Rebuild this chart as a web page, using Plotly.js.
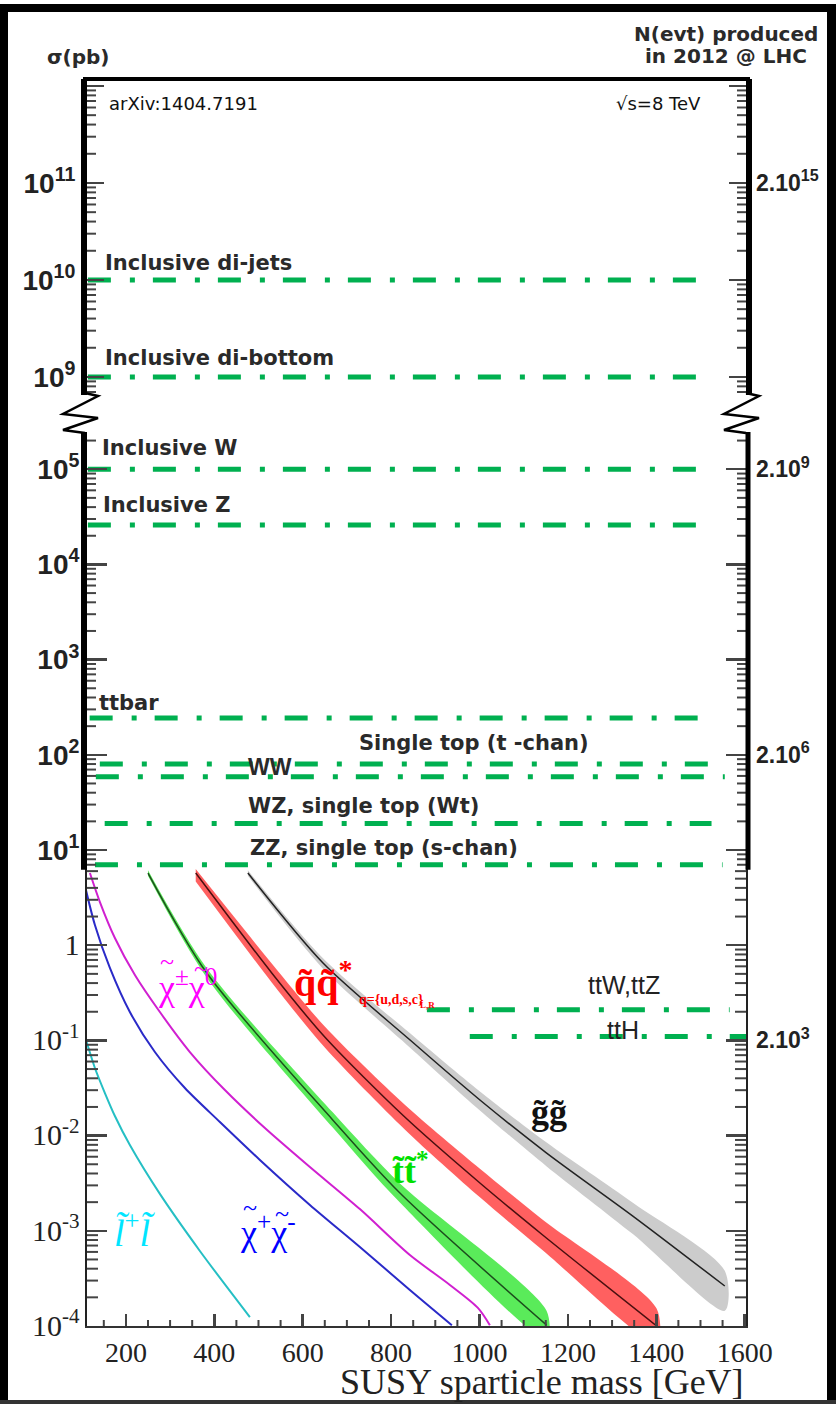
<!DOCTYPE html>
<html><head><meta charset="utf-8">
<script src="https://cdn.plot.ly/plotly-3.0.1.min.js"></script>
<style>html,body{margin:0;padding:0;background:#fff}#chart{width:836px;height:1404px}</style>
</head><body><div id="chart"></div>
<script>
// ---------------- data ----------------
// Standard Model processes (horizontal lines): cross sections in pb
const smNames = ['Inclusive di-jets','Inclusive di-bottom','Inclusive W','Inclusive Z','ttbar','Single top (t -chan)','WW','WZ, single top (Wt)','ZZ, single top (s-chan)','ttW,ttZ','ttH'];
const smXsec  = [1e10, 1e9, 1.0e5, 2.6e4, 244, 80, 59, 19, 7.0, 0.21, 0.11];
const smFrom  = [114, 114, 114, 114, 118, 141, 132, 152, 130, 881, 978];
const smTo    = [1528, 1528, 1528, 1528, 1535, 1555, 1555, 1525, 1550, 1566, 1603];

// SUSY pair production (pb) vs sparticle mass (GeV), NLO+NLL, 8 TeV
const gluinoMass = [476, 646, 843, 1001, 1152, 1347, 1555];
const gluinoXsec = [5.73, 0.650, 0.1009, 0.02366, 0.00656, 0.001429, 2.63e-4];
const gluinoUp   = [6.14, 0.729, 0.1186, 0.0291, 0.00845, 0.001972, 3.80e-4];
const gluinoDn   = [5.35, 0.566, 0.0839, 0.01837, 0.00475, 9.23e-4, 1.445e-4];

const squarkMass = [358, 530, 650, 831, 1001, 1143, 1401];
const squarkXsec = [5.73, 0.511, 0.1086, 0.01567, 0.00318, 9.04e-4, 1.0e-4];
const squarkUp   = [6.3, 0.643, 0.1399, 0.02114, 0.004493, 0.001306, 1.514e-4];
const squarkDn   = [4.66, 0.406, 0.0843, 0.01162, 0.00225, 6.26e-4, 6.6e-5];

const stopMass = [250, 383, 668, 820, 1152];
const stopXsec = [5.73, 0.511, 0.01459, 0.00249, 1.02e-4];
const stopUp   = [6.14, 0.573, 0.01754, 0.003135, 1.44e-4];
const stopDn   = [5.35, 0.455, 0.01214, 0.001978, 7.22e-5];

const c1n2Mass = [118.6, 141.2, 175.1, 220.4, 276.9, 344.8, 424.0, 514.5, 616.3, 729.4, 842.5, 933.0, 996.4, 1023.5];
const c1n2Xsec = [5.73, 2.84, 1.190, 0.486, 0.1986, 0.0755, 0.0301, 0.01202, 0.00468, 0.00169, 5.57e-4, 2.70e-4, 1.55e-4, 1.02e-4];

const c1c1Mass = [102.7, 129.9, 163.8, 209.0, 265.6, 333.5, 412.7, 503.2, 616.3, 729.4, 842.5, 937.5];
const c1c1Xsec = [5.20, 1.63, 0.577, 0.1986, 0.0755, 0.0316, 0.0139, 0.00555, 0.00187, 6.76e-4, 2.39e-4, 1.02e-4];

const slepMass = [105, 129.9, 152.5, 175.1, 209, 276.9, 367.4, 480.5];
const slepXsec = [0.1197, 0.0513, 0.0280, 0.01607, 0.00796, 0.00244, 6.14e-4, 1.24e-4];

// axis labels
const massTicks = [200, 400, 600, 800, 1000, 1200, 1400, 1600];
const lowTickVals = [1e-4, 1e-3, 1e-2, 1e-1, 1, 10, 100, 1e3, 1e4, 1e5];
const lowTickText = ['10<sup>-4</sup>','10<sup>-3</sup>','10<sup>-2</sup>','10<sup>-1</sup>','1','10<sup>1</sup>','10<sup>2</sup>','10<sup>3</sup>','10<sup>4</sup>','10<sup>5</sup>'];
const highTickVals = [1e9, 1e10, 1e11, 1e12];
const highTickText = ['10<sup>9</sup>','10<sup>10</sup>','10<sup>11</sup>',''];
const nEvtLow  = ['2.10<sup>9</sup>','2.10<sup>6</sup>','2.10<sup>3</sup>'];
const nEvtLowAt = [1e5, 1e2, 1e-1];
const nEvtHigh = ['2.10<sup>15</sup>'];
const nEvtHighAt = [1e11];

// ---------------- geometry helpers (pixels -> paper) ----------------
const ML = 87, MT = 79, PW = 659, PH = 1247;
const px = v => (v - ML) / PW;
const py = v => (MT + PH - v) / PH;

const SERIF = 'Liberation Serif, Times New Roman, serif';
const SANS = 'DejaVu Sans, sans-serif';
const ARIAL = 'Liberation Sans, Arial, sans-serif';
const GREEN = '#00B050';
const TC = '#444';

const LOWRANGE = [-4, 5.391];
const HIGHRANGE = [8.814, 12.072];
const XRANGE = [112, 1603];

const traces = [];
smNames.forEach((n, i) => {
  traces.push({
    type: 'scatter', mode: 'lines', name: n, hoverinfo: 'skip', showlegend: false,
    x: [smFrom[i], smTo[i]], y: [smXsec[i], smXsec[i]],
    xaxis: 'x', yaxis: smXsec[i] > 1e7 ? 'y2' : 'y',
    line: {color: GREEN, width: 5, dash: '23px,19px,5px,18px'}
  });
});

function band(m, up, dn, fill) {
  return {type: 'scatter', mode: 'lines', x: m.concat(m.slice().reverse()),
    y: up.concat(dn.slice().reverse()), fill: 'toself', fillcolor: fill,
    line: {width: 0, shape: 'spline', smoothing: 0.8}, hoverinfo: 'skip', showlegend: false, xaxis: 'x', yaxis: 'y'};
}
function curve(m, s, color, w) {
  return {type: 'scatter', mode: 'lines', x: m, y: s, line: {color: color, width: w, shape: 'spline', smoothing: 0.8},
    hoverinfo: 'skip', showlegend: false, xaxis: 'x', yaxis: 'y'};
}
traces.push(band(gluinoMass, gluinoUp, gluinoDn, 'rgb(204,204,204)'));
traces.push(curve(gluinoMass, gluinoXsec, '#222', 1.5));
traces.push(band(squarkMass, squarkUp, squarkDn, 'rgb(255,96,96)'));
traces.push(curve(squarkMass, squarkXsec, '#4a1010', 1.5));
traces.push(band(stopMass, stopUp, stopDn, 'rgb(90,235,90)'));
traces.push(curve(stopMass, stopXsec, '#1d4d1d', 1.5));
traces.push(curve(c1n2Mass, c1n2Xsec, '#d020d0', 2));
traces.push(curve(c1c1Mass, c1c1Xsec, '#2a2ac8', 2));
traces.push(curve(slepMass, slepXsec, '#25bfc4', 2));
[['x','y3'],['x','y4']].forEach(p =>
  traces.push({type:'scatter', x:[], y:[], xaxis:p[0], yaxis:p[1], showlegend:false, hoverinfo:'skip'}));

const lowText = lowTickText.map((t, i) => lowTickVals[i] < 5 ?
  '<span style="font-family:' + SERIF + ';font-weight:normal;font-size:30px">' + t + '</span>' : t);

const TICKFONT = {family: ARIAL, size: 28, color: '#222', weight: 'bold'};
const layout = {
  width: 836, height: 1404,
  margin: {l: ML, r: 836 - ML - PW, t: MT, b: 1404 - MT - PH},
  paper_bgcolor: '#fff', plot_bgcolor: 'rgba(0,0,0,0)',
  showlegend: false,
  xaxis: {type: 'linear', range: XRANGE, domain: [0, 1], anchor: 'y',
    tickmode: 'array', tickvals: massTicks, ticks: 'inside', ticklen: 12, tickwidth: 2.5, tickcolor: TC,
    showline: true, linecolor: '#333', linewidth: 2, showgrid: false, zeroline: false,
    tickfont: {family: SERIF, size: 28, color: '#222'}},
  yaxis: {type: 'log', range: LOWRANGE, domain: [0, (1326 - 432) / PH], anchor: 'x',
    tickmode: 'array', tickvals: lowTickVals, ticktext: lowText,
    ticks: 'inside', ticklen: 20, tickwidth: 2.5, tickcolor: TC,
    showline: true, linewidth: 2, linecolor: '#222', mirror: 'ticks', showgrid: false, zeroline: false,
    tickfont: TICKFONT},
  yaxis2: {type: 'log', range: HIGHRANGE, domain: [(1326 - 395) / PH, 1], anchor: 'x',
    tickmode: 'array', tickvals: highTickVals, ticktext: highTickText,
    ticks: 'inside', ticklen: 17, tickwidth: 2.5, tickcolor: TC,
    showline: true, linewidth: 6, linecolor: '#000', mirror: 'ticks', showgrid: false, zeroline: false,
    tickfont: TICKFONT},
  yaxis3: {type: 'log', range: LOWRANGE, overlaying: 'y', side: 'right', anchor: 'x',
    tickmode: 'array', tickvals: nEvtLowAt, ticktext: nEvtLow, ticks: '', showline: false, showgrid: false, zeroline: false,
    ticklabelstandoff: 9, tickfont: {family: ARIAL, size: 23, color: '#222', weight: 'bold'}},
  yaxis4: {type: 'log', range: HIGHRANGE, overlaying: 'y2', side: 'right', anchor: 'x',
    tickmode: 'array', tickvals: nEvtHighAt, ticktext: nEvtHigh, ticks: '', showline: false, showgrid: false, zeroline: false,
    ticklabelstandoff: 9, tickfont: {family: ARIAL, size: 23, color: '#222', weight: 'bold'}},
  shapes: [],
  annotations: []
};

const S = layout.shapes;
// minor ticks (2..9 per decade on both sides, every 50 GeV on the mass axis)
function minorTicks(yref, lo, hi) {
  for (let d = Math.floor(lo); d <= Math.ceil(hi); d++) {
    for (let k = 2; k <= 9; k++) {
      const v = k * Math.pow(10, d), lv = Math.log10(v);
      if (lv <= lo || lv >= hi) continue;
      const len = (yref === 'y' && v < 6.2) ? 11 : 9;
      S.push({type:'line', xref:'paper', yref: yref, x0: 0, x1: len / PW, y0: v, y1: v, line:{color: TC, width: 2}, layer:'above'});
      S.push({type:'line', xref:'paper', yref: yref, x0: 1, x1: 1 - len / PW, y0: v, y1: v, line:{color: TC, width: 2}, layer:'above'});
    }
  }
}
minorTicks('y', LOWRANGE[0], LOWRANGE[1]);
minorTicks('y2', HIGHRANGE[0], HIGHRANGE[1]);
for (let m = 150; m < 1600; m += 50) {
  if (m % 200 === 0) continue;
  S.push({type:'line', xref:'x', yref:'paper', x0: m, x1: m, y0: 0, y1: 6 / PH, line:{color: TC, width: 2}, layer:'above'});
}

S.push({type:'line', xref:'paper', yref:'paper', x0: px(83), x1: px(750), y0: 1, y1: 1, line:{color:'#000', width:4}});
S.push({type:'line', xref:'paper', yref:'y', x0: px(84), x1: px(84), y0: 6.2, y1: Math.pow(10, LOWRANGE[1]), line:{color:'#000', width:6}});
S.push({type:'line', xref:'paper', yref:'y', x0: px(748), x1: px(748), y0: 6.2, y1: Math.pow(10, LOWRANGE[1]), line:{color:'#000', width:5}});
function zig(x0) {
  const p = [[88,393],[101,396],[66,414],[101,418],[66,430],[88,433]];
  return 'M ' + p.map(q => px(q[0] - 88 + x0) + ',' + py(q[1])).join(' L ');
}
S.push({type:'path', xref:'paper', yref:'paper', path: zig(85), line:{color:'#000', width:2.5}});
S.push({type:'path', xref:'paper', yref:'paper', path: zig(746), line:{color:'#000', width:2.5}});
function rect(x0, y0, x1, y1, c) {
  return {type:'rect', xref:'paper', yref:'paper', x0: px(x0), x1: px(x1), y0: py(y1), y1: py(y0), fillcolor: c, line:{width:0}, layer:'above'};
}
S.push(rect(0, 4, 8, 1404, '#000'));
S.push(rect(0, 4, 836, 12, '#000'));
S.push(rect(827, 4, 836, 1404, '#000'));
S.push(rect(0, 1400, 836, 1404, '#333'));

const A = layout.annotations;
function txt(t, x, y, opts) {
  A.push(Object.assign({xref:'paper', yref:'paper', x: px(x), y: py(y), text: t, showarrow: false,
    xanchor: 'left', yanchor: 'middle', font: {family: SANS, size: 21, color: '#2a2a2a', weight: 'bold'}}, opts || {}));
}
const smLabelPos = [[103,263],[103,358],[100,448],[101,505],[97,703],[357,743],[246,767],[246,806],[248,848],[586,985],[605,1030]];
smNames.forEach((n, i) => {
  const o = {};
  if (i >= 9) o.font = {family: ARIAL, size: 25, color: '#222'};
  if (i === 6) o.font = {family: ARIAL, size: 23, color: '#2a2a2a', weight: 'bold'};
  txt(n, smLabelPos[i][0], smLabelPos[i][1], o);
});
const HF = {family: SANS, size: 20, color:'#2a2a2a', weight:'bold'};
txt('σ(pb)', 45, 57, {font: HF});
txt('N(evt) produced', 726, 34, {xanchor:'center', font: HF});
txt('in 2012 @ LHC', 726, 56, {xanchor:'center', font: HF});
txt('arXiv:1404.7191', 107, 103, {font:{family: SANS, size: 18, color:'#111'}});
txt('√s=8 TeV', 703, 103, {xanchor:'right', font:{family: SANS, size: 18, color:'#111'}});
txt('SUSY sparticle mass [GeV]', 746, 1382, {xanchor:'right', font:{family: SERIF, size: 36, color:'#222'}});

// SUSY labels
function tilde(x, y, color, size) { txt('~', x, y, {xanchor:'center', font:{family: SERIF, size: size || 26, color: color}}); }
txt('χ<sup>±</sup>χ<sup>0</sup>', 156, 985, {font:{family: SERIF, size: 36, color:'#ff00ff'}});
tilde(167, 962, '#ff00ff'); tilde(201, 968, '#ff00ff');
txt('q̃q̃<sup>*</sup>', 292, 980, {font:{family: SERIF, size: 40, color:'#ff0000', weight:'bold'}});
txt('q={u,d,s,c}', 357, 999, {font:{family: SERIF, size: 14, color:'#ff0000', weight:'bold'}});
txt('L,R', 418, 1005, {font:{family: SERIF, size: 9, color:'#ff0000', weight:'bold'}});
txt('g̃g̃', 529, 1112, {font:{family: SERIF, size: 36, color:'#111', weight:'bold'}});
txt('t̃t̃<sup>*</sup>', 390, 1168, {font:{family: SERIF, size: 36, color:'#00e000', weight:'bold'}});
txt('χ<sup>+</sup>χ<sup>-</sup>', 238, 1230, {font:{family: SERIF, size: 36, color:'#0000ff'}});
tilde(250, 1207, '#0000ff'); tilde(282, 1213, '#0000ff');
txt('<i>l̃</i><sup>+</sup><i>l̃</i>', 112, 1230, {font:{family: SERIF, size: 38, color:'#00e5ff'}});

Plotly.newPlot('chart', traces, layout, {staticPlot: true});
</script>
</body></html>
